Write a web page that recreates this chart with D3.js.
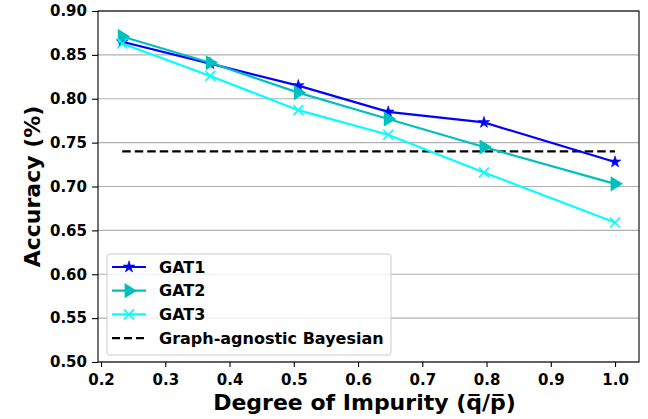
<!DOCTYPE html>
<html>
<head>
<meta charset="utf-8">
<script src="https://cdn.jsdelivr.net/npm/d3@7"></script>
<style>
  body { margin: 0; background: #fff; }
  text { font-family: "DejaVu Sans", sans-serif; font-weight: bold; }
</style>
</head>
<body>
<svg id="chart"></svg>
<script>
// data
var impurity = [0.233, 0.37, 0.507, 0.647, 0.796, 1.0];
var gat1 = [0.865, 0.840, 0.815, 0.785, 0.773, 0.728];
var gat2 = [0.871, 0.841, 0.807, 0.777, 0.745, 0.703];
var gat3 = [0.863, 0.826, 0.787, 0.759, 0.716, 0.659];
var bayesian = 0.740;
var xTicks = [0.2, 0.3, 0.4, 0.5, 0.6, 0.7, 0.8, 0.9, 1.0];
var yTicks = [0.50, 0.55, 0.60, 0.65, 0.70, 0.75, 0.80, 0.85, 0.90];

var svg = d3.select("#chart")
    .attr("width", 648)
    .attr("height", 419)

var mLeft = 98, mRight = 639, mTop = 11, mBottom = 362

var xScale = d3.scaleLinear().domain([0.1953, 1.0373]).range([mLeft, mRight]),
    yScale = d3.scaleLinear().domain([0.5, 0.9]).range([mBottom, mTop]);

// horizontal grid
svg.append("g")
   .selectAll("line")
   .data(yTicks)
   .enter().append("line")
   .attr("x1", mLeft).attr("x2", mRight)
   .attr("y1", function(d) { return yScale(d); })
   .attr("y2", function(d) { return yScale(d); })
   .attr("stroke", "#b0b0b0")
   .attr("stroke-width", 1.2);

// axes
var xAxis = svg.append("g")
   .attr("transform", "translate(0," + mBottom + ")")
   .call(d3.axisBottom(xScale).tickValues(xTicks).tickFormat(d3.format(".1f")).tickSizeOuter(0).tickSize(5).tickPadding(7));

var yAxis = svg.append("g")
   .attr("transform", "translate(" + mLeft + ",0)")
   .call(d3.axisLeft(yScale).tickValues(yTicks).tickFormat(d3.format(".2f")).tickSizeOuter(0).tickSize(6).tickPadding(5));

[xAxis, yAxis].forEach(function(a) {
    a.selectAll("text").attr("font-size", "15px").attr("fill", "#000")
     .style("font-family", "'DejaVu Sans', sans-serif").style("font-weight", "bold");
    a.selectAll("line").attr("stroke", "#000").attr("stroke-width", 1.1);
    a.select(".domain").remove();
});

// frame
svg.append("rect")
   .attr("x", mLeft).attr("y", mTop)
   .attr("width", mRight - mLeft).attr("height", mBottom - mTop)
   .attr("fill", "none")
   .attr("stroke", "#000")
   .attr("stroke-width", 1.1);

// bayesian baseline
svg.append("line")
   .attr("x1", xScale(impurity[0])).attr("x2", xScale(impurity[impurity.length - 1]))
   .attr("y1", yScale(bayesian)).attr("y2", yScale(bayesian))
   .attr("stroke", "#000")
   .attr("stroke-width", 2.3)
   .attr("stroke-dasharray", "8.5,4");

var line = d3.line()
    .x(function(d, i) { return xScale(impurity[i]); })
    .y(function(d) { return yScale(d); });

function star(g, x, y, r, color) {
    g.append("path")
     .attr("transform", "translate(" + x + "," + y + ")")
     .attr("d", d3.symbol().type(d3.symbolStar).size(r * r)())
     .attr("fill", color).attr("stroke", color).attr("stroke-width", 0.6);
}
function tri(g, x, y, r, color) {
    g.append("path")
     .attr("transform", "translate(" + x + "," + y + ")")
     .attr("d", "M" + r + ",0L" + (-r * 0.55) + "," + (-r * 0.95) + "L" + (-r * 0.55) + "," + (r * 0.95) + "Z")
     .attr("fill", color);
}
function cross(g, x, y, r, color) {
    g.append("path")
     .attr("transform", "translate(" + x + "," + y + ")")
     .attr("d", "M" + (-r) + "," + (-r) + "L" + r + "," + r + "M" + (-r) + "," + r + "L" + r + "," + (-r))
     .attr("stroke", color).attr("stroke-width", 1.6).attr("fill", "none");
}

var series = [
    { name: "GAT1", values: gat1, color: "#0000ff", marker: star, size: 6.5 },
    { name: "GAT2", values: gat2, color: "#00bfbf", marker: tri, size: 8 },
    { name: "GAT3", values: gat3, color: "#00ffff", marker: cross, size: 5 }
];

series.forEach(function(s) {
    var g = svg.append("g");
    g.append("path")
     .attr("d", line(s.values))
     .attr("fill", "none")
     .attr("stroke", s.color)
     .attr("stroke-width", 2.2);
    s.values.forEach(function(v, i) {
        s.marker(g, xScale(impurity[i]), yScale(v), s.size, s.color);
    });
});

// legend
var lg = svg.append("g");
lg.append("rect")
  .attr("x", 107).attr("y", 254)
  .attr("width", 284).attr("height", 101)
  .attr("rx", 3)
  .attr("fill", "#fff").attr("fill-opacity", 0.8)
  .attr("stroke", "#cccccc").attr("stroke-width", 1);

var legendRows = series.concat([{ name: "Graph-agnostic Bayesian", color: "#000", dash: true }]);
legendRows.forEach(function(s, i) {
    var y = 267 + i * 23.7;
    var ln = lg.append("line")
      .attr("x1", 112).attr("x2", 146)
      .attr("y1", y).attr("y2", y)
      .attr("stroke", s.color).attr("stroke-width", 2.2);
    if (s.dash) ln.attr("stroke-dasharray", "8,4").attr("stroke-width", 2.3);
    else s.marker(lg, 129, y, s.size, s.color);
    lg.append("text")
      .attr("x", 159).attr("y", y)
      .attr("dy", "0.36em")
      .attr("font-size", "16px")
      .text(s.name);
});

// axis labels
svg.append("text")
   .attr("x", (mLeft + mRight) / 2 - 4)
   .attr("y", 410)
   .attr("text-anchor", "middle")
   .attr("font-size", "22px")
   .text("Degree of Impurity (q\u0305/p\u0305)");

svg.append("text")
   .attr("transform", "translate(40," + ((mTop + mBottom) / 2) + ") rotate(-90)")
   .attr("text-anchor", "middle")
   .attr("font-size", "22px")
   .text("Accuracy (%)");
</script>
</body>
</html>
